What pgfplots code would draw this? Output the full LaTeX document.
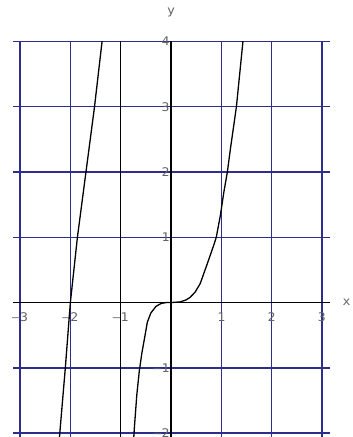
\documentclass[border=0pt]{standalone}
\usepackage{pgfplots}
\pgfplotsset{compat=1.18}
\usepackage{fontspec}
\newfontfamily\tickfont[FakeStretch=1.1]{DejaVu Sans Mono}
\definecolor{gridnavy}{RGB}{45,45,140}
\definecolor{txtgray}{RGB}{100,100,100}
\begin{document}
\begin{tikzpicture}
\useasboundingbox (-13bp,0) rectangle (340bp,437bp);
\clip (-13bp,0) rectangle (340bp,437bp);
\begin{axis}[
  at={(0,0)}, anchor=south west,
  scale only axis, width=317bp, height=395.5bp,
  xmin=-3.14, xmax=3.16, ymin=-2.06, ymax=4,
  axis lines=middle,
  axis line style={-, black, line width=1.2bp},
  xtick={-3,-2,-1,1,2,3}, xticklabels={–3,–2,–1,1,2,3},
  ytick={-2,-1,1,2,3,4}, yticklabels={–2,–1,1,2,3,4},
  major tick length=0pt,
  grid=major, grid style={gridnavy, line width=1.4bp},
  ticklabel style={font=\tickfont\fontsize{12}{12}\selectfont, text=txtgray},
  xticklabel style={anchor=north, yshift=-7bp},
  yticklabel style={anchor=east, xshift=2bp},
  xlabel={x}, ylabel={y},
  xlabel style={font=\tickfont\fontsize{12}{12}\selectfont, text=txtgray, at={(axis cs:3.16,0)}, anchor=center, xshift=16.7bp},
  ylabel style={font=\tickfont\fontsize{12}{12}\selectfont, text=txtgray, at={(axis cs:0,4)}, anchor=center, yshift=29.5bp},
]
% vertical asymptote line drawn by the plotter
\addplot[black, line width=1.2bp] coordinates {(-1,-2.06) (-1,4)};
% left branch
\addplot[black, line width=1.3bp] coordinates {
  (-2.23,-2.2) (-2.21,-2.0) (-2.10,-1.0) (-2.0,0.0) (-1.86,1.0)
  (-1.69,2.0) (-1.52,3.0) (-1.37,4.0) (-1.35,4.2)
};
% right branch
\addplot[black, line width=1.3bp] coordinates {
  (-0.75,-2.2) (-0.73,-1.94) (-0.68,-1.42) (-0.63,-1.05) (-0.58,-0.78)
  (-0.52,-0.52) (-0.47,-0.30) (-0.40,-0.16) (-0.30,-0.06) (-0.20,-0.015)
  (-0.10,0.0) (0.0,0.0) (0.18,0.01) (0.30,0.04) (0.38,0.08) (0.48,0.16)
  (0.58,0.29) (0.71,0.57) (0.85,0.88) (0.90,1.0) (0.98,1.33) (1.05,1.69)
  (1.12,2.0) (1.18,2.35) (1.30,3.0) (1.43,4.0) (1.45,4.2)
};
\end{axis}
\end{tikzpicture}
\end{document}
